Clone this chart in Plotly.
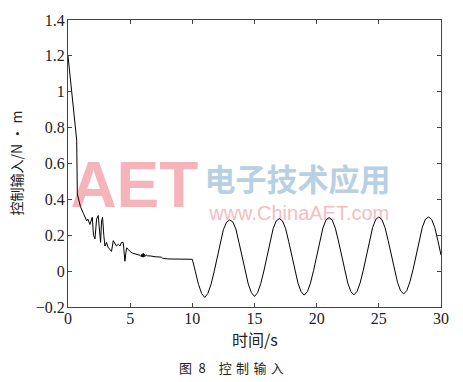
import plotly.graph_objects as go

# ---- data ----
t_transient = [0.0, 0.7, 0.75, 0.9, 1.0, 1.25, 1.5, 1.6, 1.76, 1.95, 2.05, 2.17, 2.3, 2.43,
               2.55, 2.62, 2.7, 2.78, 2.88, 2.97, 3.1, 3.24, 3.4, 3.5, 3.64, 3.8, 3.9, 4.05,
               4.18, 4.3, 4.44, 4.52, 4.58, 4.65, 4.72, 4.85, 4.98, 5.2, 5.5, 5.8, 5.9, 5.95,
               6.0, 6.05, 6.1, 6.15, 6.2, 6.3, 6.4, 6.6, 7.0, 7.4, 7.5, 7.6, 7.9, 8.0, 9.0, 9.75]
u_transient = [1.2, 0.73, 0.43, 0.385, 0.36, 0.32, 0.28, 0.29, 0.26, 0.30, 0.20, 0.18, 0.29, 0.31,
               0.20, 0.16, 0.28, 0.30, 0.20, 0.14, 0.16, 0.13, 0.12, 0.11, 0.17, 0.15, 0.14, 0.15,
               0.14, 0.16, 0.16, 0.10, 0.055, 0.10, 0.13, 0.12, 0.11, 0.10, 0.093, 0.088, 0.08, 0.095,
               0.078, 0.10, 0.078, 0.095, 0.082, 0.09, 0.085, 0.085, 0.08, 0.075, 0.078, 0.072, 0.07, 0.068, 0.067, 0.066]

t_osc = [10.0, 10.25, 10.5, 10.75, 11.0, 11.25, 11.5, 11.75, 12.0, 12.25, 12.5, 12.75, 13.0,
         13.25, 13.5, 13.75, 14.0, 14.25, 14.5, 14.75, 15.0, 15.25, 15.5, 15.75, 16.0,
         16.25, 16.5, 16.75, 17.0, 17.25, 17.5, 17.75, 18.0, 18.25, 18.5, 18.75, 19.0,
         19.25, 19.5, 19.75, 20.0, 20.25, 20.5, 20.75, 21.0, 21.25, 21.5, 21.75, 22.0,
         22.25, 22.5, 22.75, 23.0, 23.25, 23.5, 23.75, 24.0, 24.25, 24.5, 24.75, 25.0,
         25.25, 25.5, 25.75, 26.0, 26.25, 26.5, 26.75, 27.0, 27.25, 27.5, 27.75, 28.0,
         28.25, 28.5, 28.75, 29.0, 29.25, 29.5, 29.75, 30.0]
u_osc = [0.066, -0.004, -0.075, -0.125, -0.147, -0.124, -0.075, -0.004, 0.078, 0.16, 0.232, 0.272, 0.285,
         0.275, 0.235, 0.16, 0.08, -0.002, -0.072, -0.12, -0.141, -0.12, -0.07, 0.0, 0.08,
         0.165, 0.237, 0.28, 0.293, 0.28, 0.238, 0.165, 0.083, 0.0, -0.068, -0.115, -0.134,
         -0.115, -0.067, 0.003, 0.085, 0.168, 0.24, 0.285, 0.299, 0.284, 0.24, 0.168, 0.085,
         0.003, -0.066, -0.114, -0.132, -0.113, -0.065, 0.005, 0.087, 0.17, 0.243, 0.288, 0.302,
         0.287, 0.242, 0.17, 0.088, 0.006, -0.062, -0.11, -0.127, -0.108, -0.06, 0.008, 0.09,
         0.172, 0.245, 0.29, 0.302, 0.288, 0.243, 0.17, 0.09]

x_ticks = [0, 5, 10, 15, 20, 25, 30]
y_ticks = [-0.2, 0, 0.2, 0.4, 0.6, 0.8, 1.0, 1.2, 1.4]
y_ticktext = ["\u22120.2", "0", "0.2", "0.4", "0.6", "0.8", "1", "1.2", "1.4"]

x_title = "时间/s"
y_title = "控制输入/N • m"
caption = "图\u20028\u2003控\u2004制\u2004输\u2004入"

serif = "Liberation Serif"
cjk = "Noto Sans CJK SC"

fig = go.Figure()

# watermark on the base (hidden) axes, drawn beneath the data curve
fig.add_trace(go.Scatter(x=[0.178], y=[0.405], mode="text", text=["AET"],
                         textfont=dict(family="Liberation Sans", size=64,
                                       color="#f5b4ba", weight="bold"),
                         xaxis="x", yaxis="y", showlegend=False, hoverinfo="skip"))
fig.add_trace(go.Scatter(x=[0.615], y=[0.43], mode="text", text=["电子技术应用"],
                         textfont=dict(family=cjk, size=31, color="#b7d0e2", weight="bold"),
                         xaxis="x", yaxis="y", showlegend=False, hoverinfo="skip"))
fig.add_trace(go.Scatter(x=[0.62], y=[0.322], mode="text", text=["www.ChinaAET.com"],
                         textfont=dict(family="Liberation Sans", size=20, color="#f7bcc2"),
                         xaxis="x", yaxis="y", showlegend=False, hoverinfo="skip"))

# data curve on the visible overlay axes
fig.add_trace(go.Scatter(x=t_transient + t_osc, y=u_transient + u_osc, mode="lines",
                         line=dict(color="black", width=1), xaxis="x2", yaxis="y2",
                         showlegend=False))

axis_common = dict(showline=True, linecolor="#444", linewidth=1, mirror="ticks",
                   ticks="inside", ticklen=4, tickcolor="#444", showgrid=False,
                   zeroline=False, tickfont=dict(family=serif, size=16, color="#222"))

fig.update_layout(
    width=463, height=382,
    margin=dict(l=68, r=22, t=14, b=75),
    paper_bgcolor="white", plot_bgcolor="white",
    xaxis=dict(range=[0, 1], visible=False, fixedrange=True),
    yaxis=dict(range=[0, 1], visible=False, fixedrange=True),
    xaxis2=dict(overlaying="x", anchor="y2", side="bottom", range=[0, 30],
                tickvals=x_ticks, ticklabelstandoff=-3, **axis_common),
    yaxis2=dict(overlaying="y", anchor="x2", side="left", range=[-0.2, 1.4],
                tickvals=y_ticks, ticktext=y_ticktext, ticklabelstandoff=-1, **axis_common),
    annotations=[
        dict(text=x_title, xref="paper", yref="paper", x=0.5, y=0, xanchor="center",
             yanchor="middle", yshift=-32, showarrow=False,
             font=dict(family=cjk, size=16, color="#222")),
        dict(text=y_title, xref="paper", yref="paper", x=0, y=0.5, xanchor="center",
             yanchor="middle", xshift=-53, textangle=-90, showarrow=False,
             font=dict(family=cjk, size=14, color="#222")),
        dict(text=caption, xref="paper", yref="paper", x=0.437, y=0, xanchor="center",
             yanchor="middle", yshift=-60, showarrow=False,
             font=dict(family=cjk, size=13, color="#222")),
    ],
)

fig.write_html("out.html")
